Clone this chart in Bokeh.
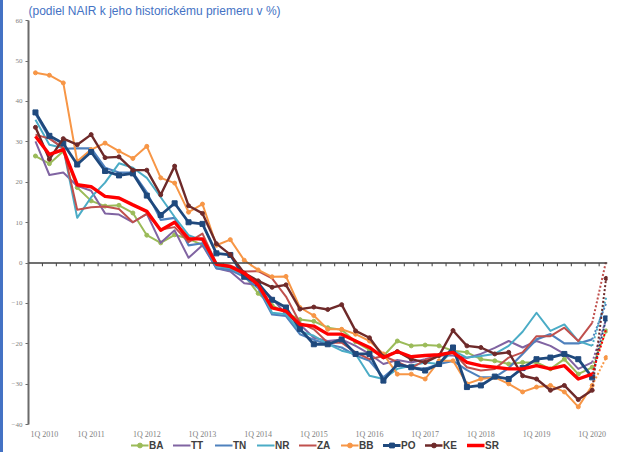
import numpy as np
from bokeh.plotting import figure
from bokeh.models import Range1d, FixedTicker, Span, Legend, LegendItem, ColumnDataSource
from bokeh.core.properties import value
from bokeh.embed import file_html
from bokeh.resources import INLINE

# Quarters 1Q 2010 .. 1Q 2020 (solid) + 2Q 2020 (dotted projection)
QUARTERS = [f"{q}Q {y}" for y in range(2010, 2021) for q in range(1, 5)][:42]
X_TICK_LABELS = ["1Q 2010", "1Q 2011", "1Q 2012", "1Q 2013", "1Q 2014", "1Q 2015",
                 "1Q 2016", "1Q 2017", "1Q 2018", "1Q 2019", "1Q 2020"]
Y_TICKS = [-40, -30, -20, -10, 0, 10, 20, 30, 40, 50, 60]

BA = [26.5, 24.6, 27.7, 18.7, 15.4, 14.1, 14.3, 12.4, 6.9, 5.0, 7.0, 6.0, 4.5, -0.5, -1.5, -3.0,
      -7.5, -10.5, -12.3, -14.0, -14.4, -16.0, -16.5, -19.5, -21.5, -23.0, -19.3, -20.5, -20.3,
      -20.5, -21.7, -22.1, -23.8, -24.2, -25.0, -24.6, -24.6, -26.2, -23.8, -27.5, -25.8, -16.8]
TT = [30.1, 21.8, 22.4, 19.1, 17.9, 12.3, 12.0, 10.1, 12.2, 5.0, 8.1, 1.3, 4.4, -1.3, -2.1, -5.0,
      -5.4, -8.7, -12.7, -15.2, -18.5, -19.3, -18.9, -20.5, -22.5, -25.0, -24.0, -24.6, -23.8,
      -22.9, -22.9, -23.5, -22.5, -21.0, -19.3, -20.9, -19.3, -20.5, -22.5, -26.2, -24.6, -14.0]
TN = [37.0, 31.0, 28.3, 28.4, 28.4, 23.6, 22.4, 22.4, 17.5, 10.7, 11.2, 4.4, 4.9, -1.3, -1.7, -3.4,
      -6.2, -12.7, -13.1, -17.6, -19.0, -20.1, -20.9, -22.9, -24.2, -28.3, -25.4, -25.8, -26.2,
      -25.0, -24.2, -26.5, -28.3, -28.3, -26.0, -22.5, -18.9, -17.6, -19.9, -19.9, -18.9, -10.0]
NR = [35.5, 29.3, 28.5, 11.2, 16.3, 19.9, 24.7, 23.6, 21.1, 16.3, 11.4, 6.9, 5.6, -0.8, -1.3, -2.9,
      -5.4, -12.3, -12.7, -16.9, -18.0, -20.0, -21.7, -22.5, -27.9, -28.7, -26.2, -25.4, -24.6,
      -25.0, -21.7, -23.4, -23.0, -22.5, -20.5, -17.0, -12.3, -16.8, -15.2, -19.3, -20.5, -8.6]
ZA = [31.8, 30.8, 28.5, 13.2, 13.8, 14.0, 13.4, 10.1, 12.2, 8.3, 8.9, 5.2, 7.3, -0.1, -0.6, -2.1,
      -2.0, -3.8, -8.3, -14.8, -16.4, -19.7, -19.7, -22.1, -23.8, -23.0, -24.5, -26.0, -24.0,
      -23.0, -22.0, -25.8, -26.6, -26.2, -23.4, -22.1, -18.1, -18.1, -16.0, -19.3, -14.8, 0.5]
BB = [47.1, 46.5, 44.6, 25.2, 28.1, 29.7, 27.7, 25.9, 28.9, 21.1, 19.8, 12.6, 14.6, 4.4, 5.8, 0.7,
      -1.7, -3.4, -3.3, -11.0, -13.0, -16.4, -16.4, -17.6, -19.3, -22.5, -27.5, -27.5, -28.7,
      -24.2, -24.2, -29.9, -28.7, -28.3, -29.9, -31.9, -30.7, -30.3, -31.9, -35.6, -30.3, -23.4]
PO = [37.3, 31.5, 29.6, 24.4, 27.5, 22.8, 21.7, 22.2, 16.7, 11.9, 14.8, 10.1, 9.7, 2.4, 2.0, -3.4,
      -5.0, -9.1, -11.0, -16.3, -20.1, -20.1, -18.9, -22.5, -22.5, -29.1, -25.0, -25.8, -26.6,
      -25.0, -20.9, -30.7, -30.3, -28.1, -28.7, -26.0, -23.8, -23.4, -22.5, -23.8, -28.3, -13.7]
KE = [33.6, 25.7, 30.8, 29.3, 31.8, 26.1, 26.3, 23.0, 23.0, 16.9, 24.0, 14.2, 12.3, 4.8, 2.1, -2.5,
      -4.4, -6.0, -5.4, -11.4, -10.9, -11.5, -10.3, -16.8, -18.5, -23.2, -21.9, -23.8, -24.6,
      -22.9, -16.7, -20.5, -20.9, -22.5, -22.1, -27.9, -28.7, -31.5, -30.3, -33.8, -31.5, -3.8]
SR = [31.4, 26.9, 28.1, 19.4, 18.9, 16.5, 16.1, 14.4, 12.8, 8.1, 10.1, 6.0, 6.0, -0.3, -0.9, -2.5,
      -5.4, -11.1, -11.9, -15.2, -15.6, -17.6, -17.6, -19.3, -20.9, -23.4, -21.9, -23.2, -22.9,
      -22.7, -22.1, -24.6, -25.4, -25.8, -26.2, -26.2, -25.4, -26.2, -25.4, -28.7, -27.5, -16.4]

SERIES = [
    ("BA", BA, "#9BBB59", 2.0, "circle", 4),
    ("TT", TT, "#8064A2", 2.0, None, 0),
    ("TN", TN, "#4F81BD", 2.2, None, 0),
    ("NR", NR, "#4BACC6", 2.0, None, 0),
    ("ZA", ZA, "#C0504D", 2.0, None, 0),
    ("BB", BB, "#F79646", 2.0, "circle", 4),
    ("PO", PO, "#1F497D", 2.8, "square", 5),
    ("KE", KE, "#6E2A2A", 2.4, "circle", 4),
    ("SR", SR, "#FF0000", 3.4, None, 0),
]

N_SOLID = 41  # 1Q 2010 .. 1Q 2020

# frame extends below -40 so that the category labels and legend sit under the axis
p = figure(width=613, height=452, output_backend="svg", toolbar_location=None,
           x_range=Range1d(-0.5, 41.1), y_range=Range1d(-46.9, 60.3),
           min_border_left=25, min_border_right=9, min_border_top=16, min_border_bottom=0,
           styles={"border-left": "3px solid #4472C4"})
p.outline_line_color = None
p.xgrid.visible = False
p.ygrid.visible = False
p.background_fill_color = "white"
p.border_fill_color = "white"

p.title.text = "(podiel NAIR k jeho historickému priemeru v %)"
p.title.text_font = "Liberation Sans"
p.title.text_font_size = "12px"
p.title.text_font_style = "normal"
p.title.text_color = "#4472C4"
p.title.align = "left"
p.title.standoff = 3

# y axis, drawn only over -40..60
p.yaxis.ticker = FixedTicker(ticks=Y_TICKS)
p.yaxis.bounds = (Y_TICKS[0], Y_TICKS[-1])
p.yaxis.axis_line_color = "#6B6B6B"
p.yaxis.axis_line_width = 2
p.yaxis.major_tick_line_color = "#6B6B6B"
p.yaxis.major_tick_out = 3
p.yaxis.major_tick_in = 0
p.yaxis.minor_tick_line_color = None
p.yaxis.major_label_text_font = "Liberation Serif"
p.yaxis.major_label_text_font_size = "7px"
p.yaxis.major_label_text_color = "#7F7F7F"
p.yaxis.major_label_standoff = 3
p.xaxis.visible = False

# category labels under the lowest y value (first one nudged right so it is not clipped)
x_tick_pos = [QUARTERS.index(lbl) for lbl in X_TICK_LABELS]
label_dx = [9] + [0] * (len(x_tick_pos) - 1)
p.text(x=x_tick_pos, y=np.full(len(x_tick_pos), Y_TICKS[0]), text=X_TICK_LABELS,
       x_offset=label_dx, y_offset=5, text_align="center", text_baseline="top",
       text_font=value("Liberation Serif"), text_font_size="8px", text_color="#7F7F7F")

# zero line with category tick marks
p.add_layout(Span(location=0, dimension="width", line_color="#404040", line_width=1.5))
tick_x = np.arange(len(QUARTERS)) + 0.5
p.segment(x0=tick_x, y0=np.zeros(len(tick_x)), x1=tick_x, y1=np.full(len(tick_x), -0.8),
          line_color="#404040", line_width=1)

items = []
xs = np.arange(len(QUARTERS))
for name, vals, color, lw, marker, msize in SERIES:
    src = ColumnDataSource(dict(x=xs[:N_SOLID], y=vals[:N_SOLID]))
    rs = []
    # dotted projection
    p.line(x=xs[N_SOLID - 1:], y=vals[N_SOLID - 1:], line_color=color, line_width=2,
           line_dash="2 2")
    rs.append(p.line("x", "y", source=src, line_color=color, line_width=lw, line_join="round"))
    if marker:
        rs.append(p.scatter(x=xs, y=vals, marker=marker, size=msize, fill_color=color,
                            line_color=color))
    items.append(LegendItem(label=name, renderers=rs))

legend = Legend(items=items, orientation="horizontal", location="bottom_center",
                label_text_font="Liberation Sans", label_text_font_size="10px",
                label_text_font_style="bold", label_text_color="#404040",
                glyph_width=18, glyph_height=12, label_height=12, label_standoff=1,
                spacing=3, padding=1, margin=1, border_line_color=None,
                background_fill_alpha=0)
p.add_layout(legend)

open("out.html", "w").write(file_html(p, INLINE))
